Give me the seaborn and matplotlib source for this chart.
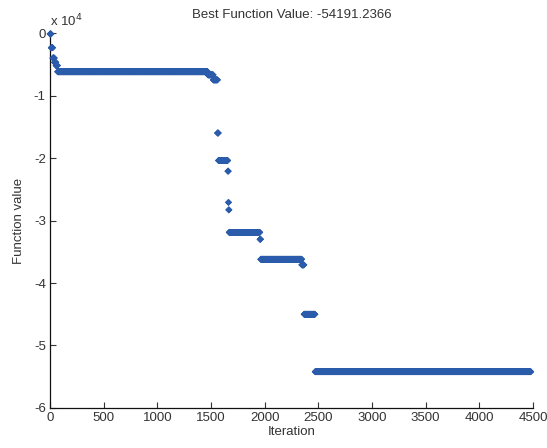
import numpy as np
import pandas as pd
import matplotlib
matplotlib.use('Agg')
import matplotlib.pyplot as plt
from matplotlib.ticker import FuncFormatter
import seaborn as sns

# best function value plateaus: first iteration, last iteration, value
plateau_start = [0, 11, 26, 41, 56, 71, 1471, 1521, 1561, 1569, 1657, 1662, 1665,
                 1669, 1956, 1963, 2346, 2367, 2470]
plateau_end = [10, 25, 40, 55, 70, 1470, 1520, 1560, 1568, 1656, 1661, 1664, 1668,
               1955, 1962, 2345, 2366, 2469, 4480]
plateau_value = [-150, -2350, -4000, -4700, -5200, -6200, -6700, -7500, -16000,
                 -20400, -22100, -27100, -28300, -31900, -33000, -36200, -37100,
                 -45000, -54191.2366]

best_value = plateau_value[-1]
x_ticks = [0, 500, 1000, 1500, 2000, 2500, 3000, 3500, 4000, 4500]
y_ticks = [-60000, -50000, -40000, -30000, -20000, -10000, 0]

lengths = [e - s + 1 for s, e in zip(plateau_start, plateau_end)]
df = pd.DataFrame({
    'Iteration': np.arange(plateau_start[0], plateau_end[-1] + 1),
    'Value': np.repeat(plateau_value, lengths),
})

sns.set_style('ticks')
plt.rcParams['font.family'] = ['Liberation Sans', 'DejaVu Sans']

fig = plt.figure(figsize=(5.47, 4.48), dpi=100)
ax = fig.add_axes([0.0914, 0.0893, 0.883, 0.837])

sns.scatterplot(data=df, x='Iteration', y='Value', marker='D', s=12,
                color='#2b5cab', edgecolor='none', ax=ax, legend=False,
                clip_on=False, zorder=3)

ax.set_xlim(0, 4500)
ax.set_ylim(-60000, 0)
ax.set_xticks(x_ticks)
ax.set_yticks(y_ticks)
ax.yaxis.set_major_formatter(FuncFormatter(lambda v, p: '%d' % round(v / 1e4)))
ax.tick_params(direction='in', length=4, width=0.8, labelsize=9.5,
               colors='#333333', pad=3)
for side in ['top', 'right']:
    ax.spines[side].set_visible(False)
for side in ['left', 'bottom']:
    ax.spines[side].set_linewidth(0.9)
    ax.spines[side].set_color('#111111')

ax.set_xlabel('Iteration', fontsize=9.5, labelpad=1, color='#333333')
ax.set_ylabel('Function value', fontsize=9.5, labelpad=6, color='#333333')
ax.set_title('Best Function Value: %.4f' % best_value, fontsize=9.5,
             pad=11, color='#333333')
ax.text(0.0, 1.01, 'x 10$^{4}$', transform=ax.transAxes, fontsize=9.5,
        color='#333333', ha='left', va='bottom')

fig.savefig('out.png', dpi=100)
